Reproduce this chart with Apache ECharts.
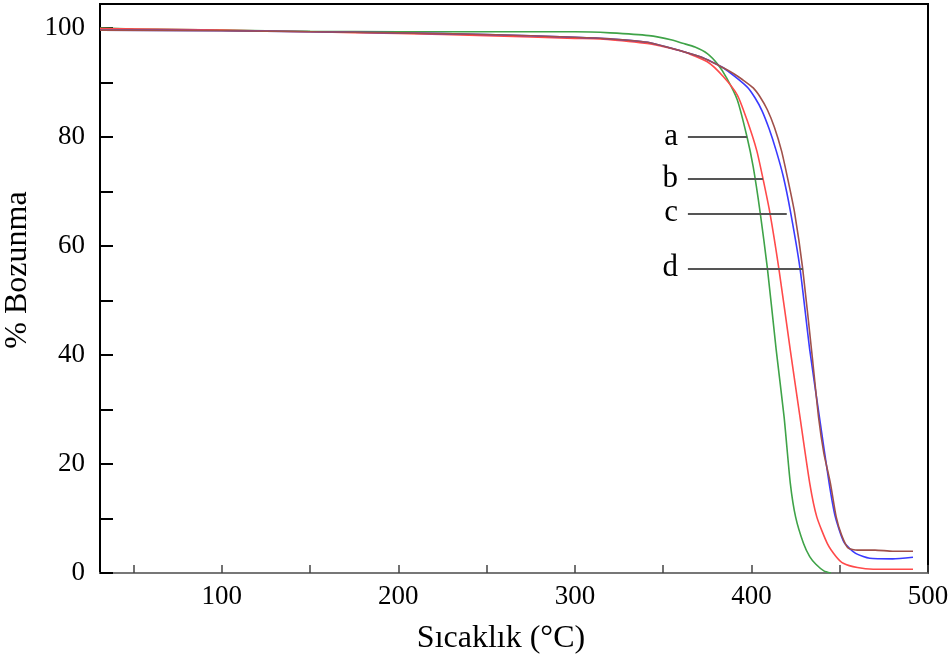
<!DOCTYPE html>
<html>
<head>
<meta charset="utf-8">
<script src="https://cdn.jsdelivr.net/npm/echarts@6/dist/echarts.min.js"></script>
<style>
html,body{margin:0;padding:0;background:#fff;}
#chart{width:952px;height:663px;}
</style>
</head>
<body>
<div id="chart"></div>
<script>
// Curve a (green)
const tempA = [31, 50, 100, 150, 200, 250, 300, 320, 342, 355, 361, 368, 375, 381, 386, 392, 397.5, 401, 405, 409, 414, 418.5, 422, 425, 429.5, 433, 436.5, 441, 445];
const massA = [100.0, 99.8, 99.6, 99.4, 99.3, 99.3, 99.3, 99.1, 98.6, 97.8, 97.2, 96.5, 95.3, 93.3, 90.8, 86.8, 80.0, 74.5, 66.0, 56.0, 41.0, 28.6, 16.5, 10.3, 5.4, 3.0, 1.6, 0.4, 0.0];
// Curve b (red)
const tempB = [31, 100, 150, 200, 250, 300, 314, 342, 361, 375, 384, 392, 397.5, 403, 406.5, 410.5, 415.5, 422, 427.5, 433, 437, 443, 448, 452, 460, 469, 491.5];
const massB = [99.9, 99.6, 99.3, 99.0, 98.6, 98.1, 98.0, 97.1, 95.7, 93.8, 91.1, 87.7, 83.1, 77.5, 72.4, 66.0, 55.9, 40.9, 28.6, 16.5, 10.3, 5.4, 3.0, 1.8, 1.0, 0.7, 0.7];
// Curve c (blue)
const tempC = [31, 100, 150, 200, 250, 300, 320, 342.5, 371, 384, 397.5, 402, 406, 410, 414, 418, 422, 427.5, 433, 438.5, 444, 447.5, 452.5, 459, 467, 480, 491.5];
const massC = [99.6, 99.5, 99.3, 99.1, 98.8, 98.3, 98.0, 97.3, 94.7, 92.7, 89.2, 87.2, 84.8, 81.5, 77.5, 72.8, 66.5, 55.9, 41.0, 28.6, 16.5, 10.3, 5.6, 3.6, 2.7, 2.6, 2.9];
// Curve d (brown)
const tempD = [31, 100, 150, 200, 250, 300, 320, 342.5, 371, 384, 390, 395, 401, 405, 409, 413, 417, 420.5, 424.5, 429, 434.5, 438, 441, 444.7, 448, 451, 454.7, 460, 470, 480, 491.5];
const massD = [99.6, 99.5, 99.3, 99.1, 98.8, 98.3, 98.0, 97.3, 94.7, 92.7, 91.6, 90.5, 89.0, 87.3, 85.0, 81.8, 77.5, 72.4, 66.0, 55.9, 39.5, 28.6, 22.0, 16.5, 10.3, 7.0, 4.6, 4.2, 4.2, 4.0, 4.0];

// Annotation labels and leader lines
const annotNames = ['a', 'b', 'c', 'd'];
const annotY = [80, 72.4, 66.0, 55.9];
const annotStartX = [364, 364, 364, 364];
const annotEndX = [397.5, 406.5, 420, 429.2];

// Axis ticks
const xLabelValues = [100, 200, 300, 400, 500];
const xTickValues = [50, 100, 150, 200, 250, 300, 350, 400, 450, 500];
const yLabelValues = [0, 20, 40, 60, 80, 100];
const yTickValues = [0, 10, 20, 30, 40, 50, 60, 70, 80, 90, 100];

const seriesColors = ['#3fa348', '#ff4a4a', '#3a3aff', '#a0504a'];
const FONT = "'Liberation Serif', 'Times New Roman', serif";

function pairs(xs, ys) { return xs.map((x, i) => [x, ys[i]]); }

const curves = [pairs(tempA, massA), pairs(tempB, massB), pairs(tempC, massC), pairs(tempD, massD)];

const series = curves.map((d, i) => ({
  type: 'line',
  data: d,
  showSymbol: false,
  smooth: 0.2,
  lineStyle: { color: seriesColors[i], width: 1.6 },
  z: 3
}));

series.push({
  type: 'line',
  data: [],
  markLine: {
    symbol: 'none',
    silent: true,
    animation: false,
    lineStyle: { color: '#555', width: 2, type: 'solid' },
    label: {
      show: true,
      position: 'start',
      distance: 10,
      color: '#000',
      fontFamily: FONT,
      fontSize: 31,
      formatter: p => p.name
    },
    data: annotNames.map((n, i) => [
      { name: n, coord: [annotStartX[i], annotY[i]] },
      { coord: [annotEndX[i], annotY[i]] }
    ])
  },
  z: 4
});

const chart = echarts.init(document.getElementById('chart'), null, { renderer: 'canvas' });
chart.setOption({
  animation: false,
  backgroundColor: '#fff',
  grid: { left: 100, right: 24, top: 4, bottom: 90, containLabel: false, outerBoundsMode: 'none', show: true, borderColor: '#000', borderWidth: 2, backgroundColor: 'transparent' },
  xAxis: {
    type: 'value',
    min: 31,
    max: 500,
    name: 'Sıcaklık (°C)',
    nameLocation: 'middle',
    nameGap: 50,
    nameTextStyle: { fontFamily: FONT, fontSize: 32, color: '#000', padding: [0, 26, 0, 0] },
    axisLine: { show: true, lineStyle: { color: '#777', width: 2 } },
    axisTick: { show: true, inside: true, length: 8, customValues: xTickValues, lineStyle: { color: '#444', width: 1.5 } },
    axisLabel: { customValues: xLabelValues, margin: 10, fontFamily: FONT, fontSize: 27, color: '#000' },
    splitLine: { show: false }
  },
  yAxis: {
    type: 'value',
    min: 0,
    max: 104.4,
    name: '% Bozunma',
    nameLocation: 'middle',
    nameGap: 64,
    nameRotate: 90,
    nameTextStyle: { fontFamily: FONT, fontSize: 32, color: '#000', padding: [0, 0, 0, 37] },
    axisLine: { show: true, lineStyle: { color: '#000', width: 2 } },
    axisTick: { show: true, inside: true, length: 13, customValues: yTickValues, lineStyle: { color: '#000', width: 2 } },
    axisLabel: { customValues: yLabelValues, margin: 15, fontFamily: FONT, fontSize: 27, color: '#000' },
    splitLine: { show: false }
  },
  series: series
});
</script>
</body>
</html>
